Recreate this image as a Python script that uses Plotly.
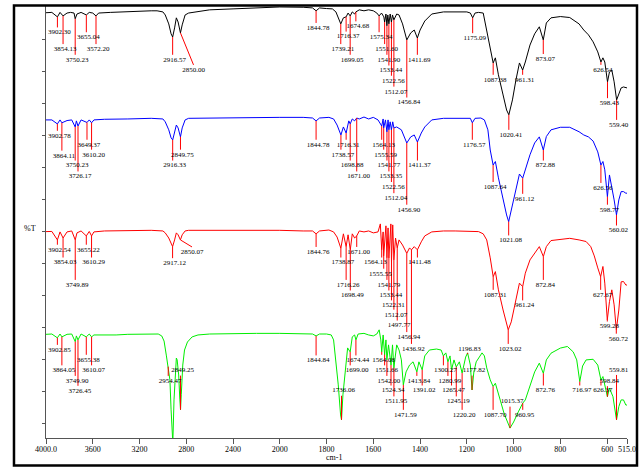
import numpy as np
import plotly.graph_objects as go

# ---------------- data (wavenumber cm-1, %T in stacked-offset units) ----------------
black_wn = [4000, 3950, 3902.3, 3880, 3854.1, 3820, 3790, 3760, 3750.2, 3735, 3700, 3655, 3630, 3600, 3572.2, 3550, 3450, 3300, 3200, 3100, 3050, 3000, 2980, 2950, 2930, 2916.6, 2900, 2885, 2870, 2850, 2835, 2810, 2780, 2700, 2600, 2400, 2200, 2100, 2000, 1900, 1860, 1844.8, 1830, 1800, 1775, 1760, 1750, 1739.2, 1728, 1716.4, 1708, 1699, 1690, 1680, 1674.7, 1660, 1640, 1620, 1600, 1585, 1575.3, 1565, 1555, 1551.6, 1546, 1541.9, 1538, 1533.4, 1528, 1522.6, 1518, 1512.1, 1500, 1490, 1475, 1456.8, 1440, 1425, 1411.7, 1400, 1380, 1350, 1300, 1250, 1200, 1185, 1175.1, 1165, 1150, 1130, 1115, 1100, 1087.4, 1078, 1065, 1045, 1030, 1020.4, 1005, 990, 975, 961.3, 950, 930, 910, 890, 873.1, 860, 840, 800, 760, 720, 700, 680, 660, 640, 626.5, 618, 610, 598.4, 590, 580, 570, 559.4, 550, 540, 530, 520, 515]
black_T = [128.5, 128.6, 127.2, 128.6, 127.5, 128.4, 128.6, 128.4, 126.6, 128.1, 128.6, 127.8, 128.6, 128.4, 127.5, 128.4, 128.6, 128.9, 129.1, 129.1, 129.1, 128.75, 127.8, 125.0, 121.9, 120.9, 123.75, 126.9, 125.6, 122.2, 124.7, 127.8, 128.4, 128.9, 129.4, 129.7, 130.0, 130.3, 130.3, 130.2, 130.0, 129.1, 130.0, 129.8, 129.7, 128.75, 127.2, 125.0, 126.9, 127.2, 128.4, 127.5, 128.75, 128.1, 128.75, 129.4, 129.1, 129.4, 129.1, 128.4, 127.5, 128.4, 127.2, 125.6, 128.1, 124.4, 127.8, 125.0, 128.1, 125.6, 127.8, 126.25, 128.1, 127.8, 125.0, 120.0, 122.2, 123.1, 120.6, 123.1, 125.9, 128.1, 128.75, 128.75, 128.75, 128.4, 126.9, 128.4, 128.6, 128.4, 123.1, 116.9, 112.8, 114.4, 109.1, 102.8, 98.1, 96.6, 101.25, 107.5, 112.8, 110.6, 113.1, 118.4, 121.9, 124.1, 120.0, 125.3, 126.9, 127.3, 127.0, 125.0, 123.1, 121.6, 119.4, 116.25, 113.1, 114.4, 113.1, 106.9, 110.0, 110.6, 106.9, 101.25, 103.4, 105.0, 105.3, 105.0, 105.0]

blue_wn = [4000, 3950, 3902.8, 3880, 3864.1, 3820, 3780, 3750.2, 3740, 3726.2, 3700, 3649.4, 3630, 3610.2, 3590, 3500, 3300, 3100, 3000, 2980, 2950, 2930, 2916.3, 2900, 2885, 2870, 2849.8, 2835, 2810, 2780, 2600, 2400, 2200, 2000, 1900, 1860, 1844.8, 1830, 1790, 1770, 1755, 1738.6, 1728, 1716.3, 1705, 1698.9, 1690, 1680, 1671, 1660, 1640, 1620, 1600, 1580, 1564.1, 1558, 1555.6, 1548, 1541.8, 1537, 1533.4, 1528, 1522.6, 1517, 1512, 1500, 1480, 1456.9, 1440, 1425, 1411.4, 1395, 1380, 1350, 1300, 1250, 1200, 1185, 1176.6, 1165, 1140, 1125, 1110, 1100, 1087.6, 1078, 1065, 1045, 1030, 1021.1, 1005, 990, 975, 961.1, 950, 930, 910, 890, 872.9, 860, 840, 800, 760, 720, 700, 680, 660, 640, 626.6, 618, 610, 598.8, 590, 580, 570, 560, 550, 540, 530, 520, 515]
blue_T = [95.0, 95.0, 93.75, 95.0, 94.1, 94.8, 95.0, 92.8, 94.7, 93.1, 95.0, 94.2, 95.0, 94.1, 95.0, 95.2, 95.3, 95.5, 95.3, 94.4, 91.9, 89.4, 88.75, 90.9, 93.4, 92.5, 89.7, 92.5, 95.0, 95.5, 95.6, 95.8, 95.8, 95.8, 95.8, 95.6, 94.7, 95.6, 95.8, 95.3, 93.4, 90.3, 92.8, 90.9, 94.7, 93.75, 95.3, 94.7, 95.6, 95.3, 95.9, 95.3, 95.8, 95.0, 93.1, 95.3, 92.5, 95.0, 91.25, 95.0, 91.9, 94.4, 91.9, 94.4, 92.5, 92.8, 91.9, 87.8, 89.7, 90.3, 88.1, 90.9, 92.8, 95.0, 95.5, 95.6, 95.6, 95.5, 94.1, 95.5, 95.6, 95.0, 91.9, 85.6, 80.9, 82.0, 76.9, 70.0, 65.3, 63.2, 68.4, 73.75, 78.1, 76.8, 79.4, 84.1, 87.8, 89.7, 85.6, 89.8, 91.9, 92.7, 92.7, 91.3, 90.3, 89.7, 88.4, 85.0, 80.9, 82.0, 79.4, 71.0, 77.8, 74.2, 70.0, 65.3, 70.0, 72.6, 72.6, 72.1, 72.1]

red_wn = [4000, 3950, 3902.5, 3880, 3854, 3820, 3780, 3749.9, 3735, 3700, 3655.2, 3630, 3610.3, 3590, 3500, 3300, 3100, 3000, 2980, 2950, 2930, 2917.1, 2900, 2885, 2870, 2850.1, 2835, 2810, 2780, 2600, 2400, 2200, 2000, 1900, 1860, 1844.8, 1830, 1790, 1770, 1755, 1738.9, 1728, 1716.3, 1708, 1698.5, 1690, 1680, 1671, 1660, 1640, 1620, 1600, 1580, 1570, 1564.1, 1558, 1555.6, 1550, 1546, 1541.8, 1537, 1533.4, 1528, 1525, 1522.3, 1517, 1512.1, 1505, 1497.8, 1490, 1475, 1456.9, 1445, 1436.9, 1425, 1411.5, 1395, 1380, 1350, 1300, 1250, 1200, 1150, 1130, 1115, 1100, 1087.3, 1078, 1065, 1045, 1030, 1023, 1010, 1000, 990, 975, 961.2, 950, 930, 910, 890, 872.8, 860, 840, 800, 760, 720, 690, 670, 655, 640, 627.7, 618, 610, 599.3, 590, 580, 570, 560.7, 550, 540, 530, 520, 515]
red_T = [60.1, 60.15, 57.5, 60.0, 58.1, 60.0, 60.3, 57.5, 59.7, 60.3, 58.75, 60.15, 58.75, 60.0, 60.3, 60.5, 60.5, 60.3, 59.7, 58.1, 56.25, 55.4, 57.5, 59.7, 59.1, 57.5, 59.1, 60.3, 60.5, 60.5, 60.5, 60.6, 60.5, 60.3, 60.3, 59.4, 60.3, 60.6, 60.0, 58.4, 54.9, 59.4, 55.4, 59.1, 54.4, 59.4, 58.1, 58.75, 60.3, 60.0, 60.3, 59.7, 60.0, 62.5, 54.4, 60.0, 52.5, 58.1, 61.9, 51.9, 61.25, 51.9, 58.75, 62.5, 50.6, 62.2, 51.25, 58.1, 55.0, 57.5, 55.9, 53.3, 55.0, 54.4, 55.4, 54.4, 56.9, 58.75, 60.0, 60.3, 60.3, 60.3, 60.1, 59.4, 57.5, 51.9, 46.0, 47.6, 41.9, 35.6, 31.9, 29.4, 31.9, 35.6, 39.0, 44.0, 42.9, 47.1, 51.25, 53.3, 55.4, 52.3, 55.4, 57.3, 57.7, 58.0, 57.5, 57.0, 55.4, 52.5, 48.75, 46.0, 49.2, 44.0, 32.5, 38.2, 41.9, 37.2, 29.4, 35.6, 44.4, 44.5, 43.4, 43.4]

green_wn = [4000, 3950, 3902.9, 3880, 3864.1, 3820, 3780, 3749.9, 3740, 3726.5, 3700, 3655.4, 3630, 3610.1, 3590, 3500, 3400, 3300, 3200, 3100, 3040, 3010, 2990, 2970, 2954.5, 2940, 2930, 2922, 2915, 2905, 2895, 2885, 2878, 2865, 2855, 2849.3, 2843, 2830, 2815, 2790, 2750, 2700, 2600, 2400, 2200, 2000, 1900, 1860, 1844.8, 1830, 1800, 1780, 1770, 1760, 1750, 1740, 1736.1, 1730, 1720, 1710, 1699, 1690, 1680, 1674.4, 1665, 1640, 1620, 1600, 1585, 1575, 1568, 1564.1, 1558, 1551.7, 1546, 1542, 1535, 1524.3, 1518, 1512, 1500, 1490, 1480, 1471.6, 1460, 1445, 1430, 1413.8, 1405, 1391, 1380, 1360, 1330, 1310, 1300.3, 1290, 1281, 1272, 1265.5, 1255, 1245.2, 1232, 1220.2, 1205, 1196.8, 1185, 1177.8, 1170, 1160, 1145, 1135, 1125, 1115, 1100, 1087.7, 1078, 1060, 1040, 1015.4, 1000, 980, 960.9, 950, 930, 910, 890, 872.8, 860, 840, 800, 770, 745, 730, 717, 705, 690, 660, 640, 626.4, 618, 598.8, 590, 575, 559.8, 550, 540, 530, 520, 515]
green_T = [28.0, 28.1, 26.9, 28.1, 27.2, 28.0, 28.1, 25.7, 27.5, 26.25, 28.1, 27.2, 28.1, 27.2, 27.8, 27.7, 27.8, 28.0, 28.1, 28.1, 28.1, 27.5, 25.9, 21.25, 17.9, 13.75, 4.4, -6.0, -6.0, 7.5, 16.9, 20.6, 20.0, 15.3, 7.5, 4.4, 9.1, 18.4, 23.1, 25.6, 27.2, 27.8, 28.1, 28.3, 28.3, 28.3, 28.3, 28.1, 27.5, 28.1, 28.1, 27.8, 26.25, 19.4, 12.2, 2.8, 1.25, 9.1, 17.8, 23.75, 22.5, 27.2, 27.8, 26.25, 28.1, 28.3, 27.8, 27.5, 28.1, 29.4, 26.25, 22.5, 27.8, 21.6, 26.25, 20.0, 24.7, 18.4, 24.7, 17.5, 24.7, 23.1, 20.0, 12.2, 16.25, 18.4, 19.4, 16.25, 19.4, 16.9, 21.25, 23.1, 23.4, 23.1, 21.25, 22.2, 19.4, 21.25, 16.9, 20.0, 17.8, 19.4, 15.9, 20.9, 22.2, 18.4, 10.6, 16.25, 19.4, 21.25, 22.2, 21.25, 17.5, 13.75, 11.7, 12.7, 8.1, 3.1, -1.3, 0.6, 3.75, 6.5, 7.5, 11.6, 16.25, 19.0, 15.8, 20.0, 22.1, 23.7, 24.2, 22.5, 20.0, 13.2, 18.1, 20.0, 20.2, 18.4, 13.75, 14.8, 8.5, 11.2, 8.5, 1.25, 5.4, 7.5, 7.5, 5.9, 5.9]

# peak labels
black_peaks = [3902.30, 3854.13, 3750.23, 3655.04, 3572.20, 2916.57, 2850.00, 1844.78, 1739.21, 1716.37, 1699.05, 1674.68, 1575.34, 1551.60, 1541.90, 1533.44, 1522.56, 1512.07, 1456.84, 1411.69, 1175.09, 1087.38, 1020.41, 961.31, 873.07, 626.54, 598.43, 559.40]
blue_peaks = [3902.78, 3864.11, 3750.23, 3726.17, 3649.37, 3610.20, 2916.33, 2849.75, 1844.78, 1738.57, 1716.31, 1698.88, 1671.00, 1564.13, 1555.59, 1541.77, 1533.35, 1522.56, 1512.04, 1456.90, 1411.37, 1176.57, 1087.64, 1021.08, 961.12, 872.88, 626.56, 598.77, 560.02]
red_peaks = [3902.54, 3854.03, 3749.89, 3655.22, 3610.29, 2917.12, 2850.07, 1844.76, 1738.87, 1716.26, 1698.49, 1671.00, 1564.13, 1555.55, 1541.79, 1533.44, 1522.31, 1512.07, 1497.77, 1456.94, 1436.92, 1411.48, 1087.31, 1023.02, 961.24, 872.84, 627.67, 599.28, 560.72]
green_peaks = [3902.85, 3864.05, 3749.90, 3726.45, 3655.38, 3610.07, 2954.47, 2849.25, 1844.84, 1736.06, 1699.00, 1674.44, 1564.08, 1551.66, 1542.00, 1524.34, 1511.95, 1471.59, 1413.84, 1391.02, 1300.27, 1280.99, 1265.47, 1245.19, 1220.20, 1196.83, 1177.82, 1087.70, 1015.37, 960.95, 872.76, 716.97, 626.37, 598.84, 559.81]

# ---------------- label placement (layout) ----------------
black_label_y = [122.3, 117.1, 113.75, 120.8, 117.1, 113.75, 110.6, 123.7, 117.1, 121.0, 113.75, 124.2, 120.8, 117.1, 113.75, 110.4, 107.2, 103.8, 100.4, 113.75, 120.5, 107.5, 90.3, 107.5, 114.0, 110.6, 100.2, 93.4]
blue_label_y = [90.0, 83.8, 80.7, 77.3, 87.2, 84.1, 80.7, 84.1, 87.2, 84.1, 87.2, 80.7, 77.3, 87.2, 84.1, 80.7, 77.3, 74.0, 70.5, 66.9, 80.7, 87.2, 74.0, 57.3, 70.3, 80.7, 73.7, 66.9, 60.4]
red_label_y = [54.4, 50.4, 43.4, 54.4, 50.4, 50.2, 53.7, 53.7, 50.4, 43.4, 40.1, 53.7, 50.4, 46.9, 43.4, 40.1, 37.0, 34.1, 30.7, 27.1, 23.4, 50.4, 40.3, 23.4, 37.0, 43.4, 40.3, 30.4, 26.6]
green_label_y = [23.1, 16.7, 13.4, 10.3, 20.0, 16.7, 13.4, 16.7, 19.8, 10.4, 16.7, 19.8, 20.0, 16.7, 13.4, 10.4, 7.0, 2.8, 13.4, 10.4, 16.7, 13.4, 10.4, 7.0, 2.8, 23.4, 16.7, 2.8, 7.0, 2.8, 10.4, 10.4, 10.4, 13.4, 16.9]

# label centre overrides (wavenumber of label centre, diagonal leader?)
label_x_override = {
    ("black", 2850.00): (2738, True),
    ("red", 2850.07): (2751, True),
    ("green", 1699.00): (1669, False),
    ("red", 1564.13): (1591, False),
    ("red", 1555.55): (1570, False),
}

tick_wn = [4000, 3600, 3200, 2800, 2400, 2000, 1800, 1600, 1400, 1200, 1000, 800, 600, 515]
tick_text = ["4000.0", "3600", "3200", "2800", "2400", "2000", "1800", "1600", "1400", "1200", "1000", "800", "600", "515.0"]


def xt(w):
    """FTIR axis with doubled scale below 2000 cm-1."""
    w = np.asarray(w, dtype=float)
    return np.where(w >= 2000, (4000.0 - w) / 2.0, 1000.0 + (2000.0 - w))


PX_PER_T = 581.0 / 2485.0
LABEL_DX = 2.0 / PX_PER_T
GAP = 1.6
SERIF = "Liberation Serif, Times New Roman, serif"

series = [
    ("black", black_wn, black_T, black_peaks, black_label_y, "#000000"),
    ("blue", blue_wn, blue_T, blue_peaks, blue_label_y, "#0000ff"),
    ("red", red_wn, red_T, red_peaks, red_label_y, "#ff0000"),
    ("green", green_wn, green_T, green_peaks, green_label_y, "#00ee00"),
]

fig = go.Figure()
lead_x, lead_y, txt_x, txt_y, txt = [], [], [], [], []
for name, wn, T, peaks, ly, color in series:
    wn_a = np.asarray(wn, dtype=float)
    T_a = np.asarray(T, dtype=float)
    fig.add_trace(go.Scatter(x=xt(wn_a), y=T_a, mode="lines",
                             line=dict(color=color, width=1), hoverinfo="skip"))
    for p, yl in zip(peaks, ly):
        yc = float(np.interp(p, wn_a[::-1], T_a[::-1]))
        xp = float(xt(p))
        key = (name, p)
        diag = False
        if key in label_x_override:
            lw, diag = label_x_override[key]
            xl = float(xt(lw))
        else:
            xl = xp + LABEL_DX
        y_end = yl + GAP if yl < yc else yl - GAP
        lead_x += [xp, xl if diag else xp, None]
        lead_y += [yc, y_end, None]
        txt_x.append(xl)
        txt_y.append(yl)
        txt.append(f"{p:.2f}")

fig.add_trace(go.Scatter(x=lead_x, y=lead_y, mode="lines",
                         line=dict(color="#ff0000", width=1), hoverinfo="skip",
                         cliponaxis=False))
fig.add_trace(go.Scatter(x=txt_x, y=txt_y, mode="text", text=txt,
                         textposition="middle center",
                         textfont=dict(family=SERIF, size=7, color="black"),
                         hoverinfo="skip", cliponaxis=False))

fig.update_layout(
    width=642, height=468,
    margin=dict(l=46, r=15, t=6, b=30),
    paper_bgcolor="white", plot_bgcolor="white",
    showlegend=False,
    xaxis=dict(range=[0, 2485], tickmode="array", tickvals=xt(tick_wn), ticktext=tick_text,
               showline=True, linecolor="#555555", linewidth=1,
               ticks="outside", ticklen=5, tickcolor="#555555", tickwidth=1,
               ticklabelstandoff=-2,
               showgrid=False, zeroline=False,
               tickfont=dict(family=SERIF, size=8, color="black")),
    yaxis=dict(range=[-4.4, 130.6], tickmode="array", tickvals=list(range(0, 121, 10)),
               showticklabels=False, showline=True, linecolor="#555555", linewidth=1,
               ticks="outside", ticklen=3, tickcolor="#555555",
               showgrid=False, zeroline=False),
    shapes=[dict(type="rect", xref="paper", yref="paper",
                 x0=-0.0551, x1=1.0172, y0=-0.0637, y1=1.0012,
                 line=dict(color="black", width=2.5), fillcolor="rgba(0,0,0,0)")],
    annotations=[
        dict(text="%T", xref="paper", yref="paper", x=-0.0413, y=0.486,
             showarrow=False, font=dict(family=SERIF, size=8, color="black")),
        dict(text="cm-1", xref="paper", yref="paper", x=0.4957, y=-0.0595,
             showarrow=False, font=dict(family=SERIF, size=8, color="black")),
    ],
)

fig.write_html("out.html",
               config={"displayModeBar": False},
               post_script="document.body.style.margin='0';document.body.style.padding='0';")
